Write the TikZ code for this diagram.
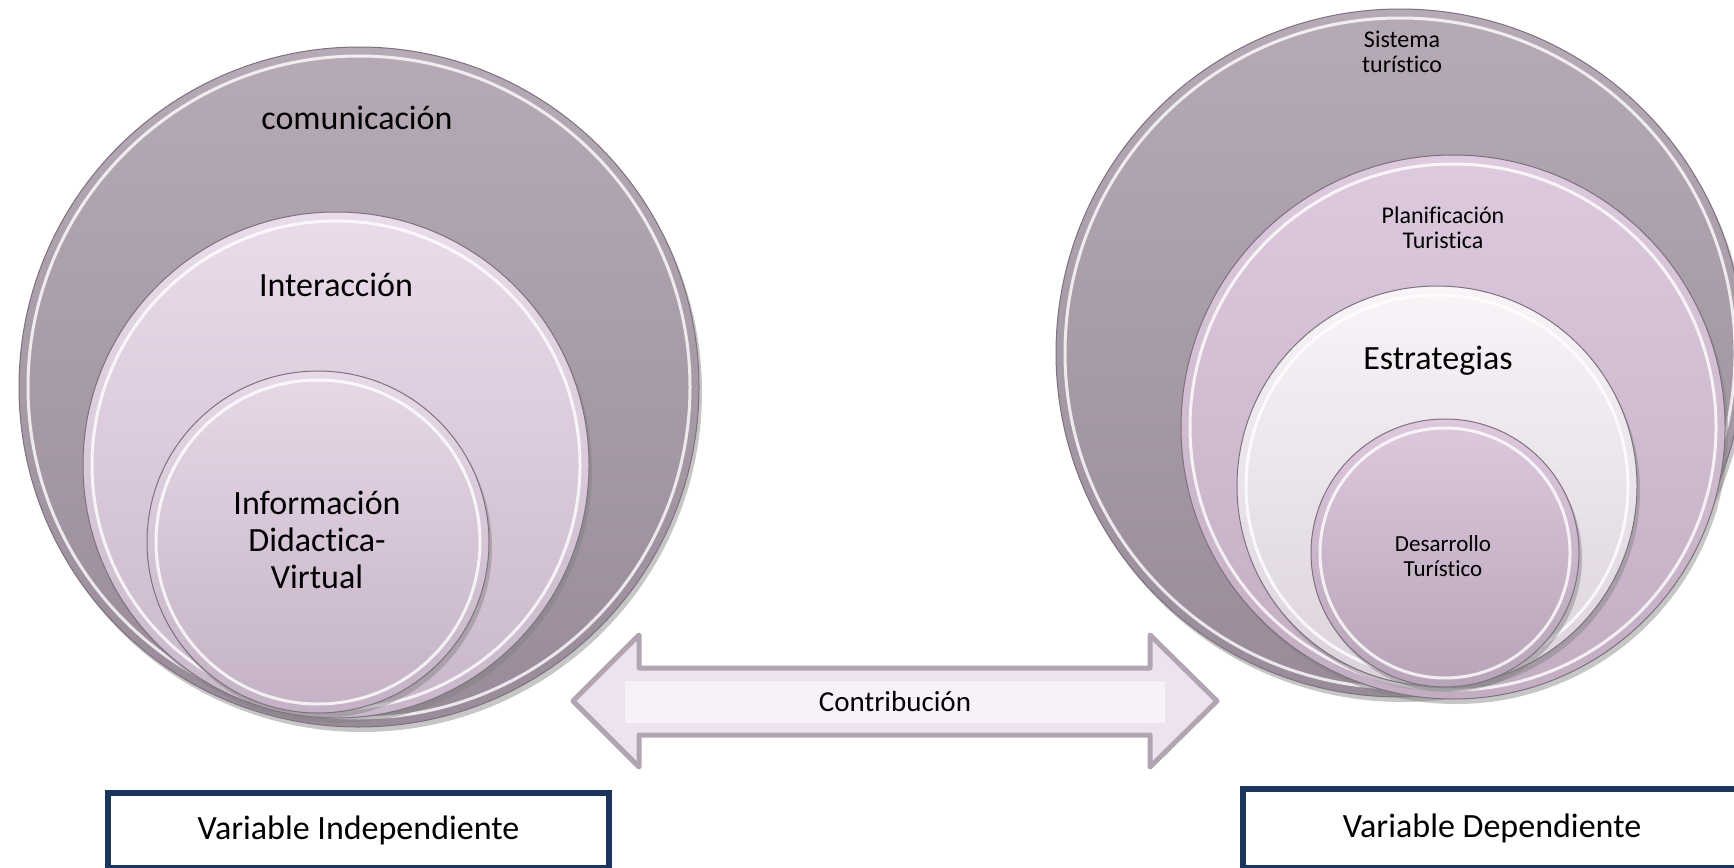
\documentclass[tikz,border=0pt]{standalone}
\usepackage{fontspec}
\setmainfont[RawFeature={-liga;-clig;-calt;-dlig}]{Carlito}
\usetikzlibrary{shadows}

\definecolor{outerTop}{HTML}{B6AAB6}
\definecolor{outerBot}{HTML}{998B99}
\definecolor{midTop}{HTML}{EADCEB}
\definecolor{midBot}{HTML}{C9B6CA}
\definecolor{innerTop}{HTML}{E7D9E8}
\definecolor{innerBot}{HTML}{C4B1C5}
\definecolor{planTop}{HTML}{DECADF}
\definecolor{planBot}{HTML}{C2ADC3}
\definecolor{estrTop}{HTML}{F8F4F8}
\definecolor{estrBot}{HTML}{DCD2DD}
\definecolor{desaTop}{HTML}{DDC8DE}
\definecolor{desaBot}{HTML}{B8A4B9}
\definecolor{rim}{HTML}{7E717E}
\definecolor{arrowline}{HTML}{B2A5B2}
\definecolor{arrowfill}{HTML}{EDE3EF}
\definecolor{arrowinner}{HTML}{F7F2F8}
\definecolor{navy}{HTML}{1B365D}

\tikzset{
	ring/.style n args={3}{circle,inner sep=0pt,minimum size=#1,top color=#2,bottom color=#3,draw=rim,line width=1pt,
		drop shadow={shadow xshift=3pt,shadow yshift=-5pt,opacity=.45},
		path picture={\draw[white,line width=3pt,opacity=.8] (path picture bounding box.center) circle (#1/2-9pt);}},
	big/.style={align=center,font=\fontsize{34}{37}\selectfont},
	small/.style={align=center,font=\fontsize{24}{25}\selectfont},
	varbox/.style={draw=navy,line width=6.5pt,fill=white,anchor=north west,inner sep=0pt,outer sep=0pt,font=\fontsize{34}{37}\selectfont}
}

\begin{document}
\begin{tikzpicture}[x=1pt,y=-1pt]
				\useasboundingbox (0,0) rectangle (1734,867);
				
				\node (a1) at (359,387) [ring={680pt}{outerTop}{outerBot}] {};
				\node (a2) at (336,465) [ring={506pt}{midTop}{midBot}] {};
				\node (a3) at (318,542) [ring={342pt}{innerTop}{innerBot}] {};
				
				\node (b1) at (1400,353) [ring={688pt}{outerTop}{outerBot}] {};
				\node (b2) at (1453,427) [ring={544pt}{planTop}{planBot}] {};
				\node (b3) at (1437,486) [ring={400pt}{estrTop}{estrBot}] {};
				\node (b4) at (1445,553) [ring={268pt}{desaTop}{desaBot}] {};
				
				\node (t1) at (357,118) [big] {comunicación};
				\node (t2) at (336,285) [big] {Interacción};
				\node (t3) at (317,540) [big] {Información\\Didactica-\\Virtual};
				
				\node (u1) at (1402,52) [small] {Sistema\\turístico};
				\node (u2) at (1443,228) [small] {Planificación\\Turistica};
				\node (u3) at (1438,361) [big] {Estrategias};
				\node (u4) at (1443,556) [align=center,font=\fontsize{23}{25}\selectfont] {Desarrollo\\Turístico};
				
				\draw[draw=arrowline,fill=arrowfill,line width=5pt,line join=round] (573,701) -- (639,635) -- (639,668) -- (1150,668) -- (1150,635) -- (1217,701) -- (1150,767) -- (1150,735) -- (639,735) -- (639,767) -- cycle;
				\node (c1) at (895,702) [fill=arrowinner,minimum width=540pt,minimum height=42pt,inner sep=0pt,font=\fontsize{29}{30}\selectfont] {Contribución};
				
				\node (v1) at (108,793) [varbox,minimum width=501pt,minimum height=75pt] {Variable Independiente};
				\node (v2) at (1243,789) [varbox,minimum width=498pt,minimum height=79pt] {Variable Dependiente};
			\end{tikzpicture}
\end{document}
